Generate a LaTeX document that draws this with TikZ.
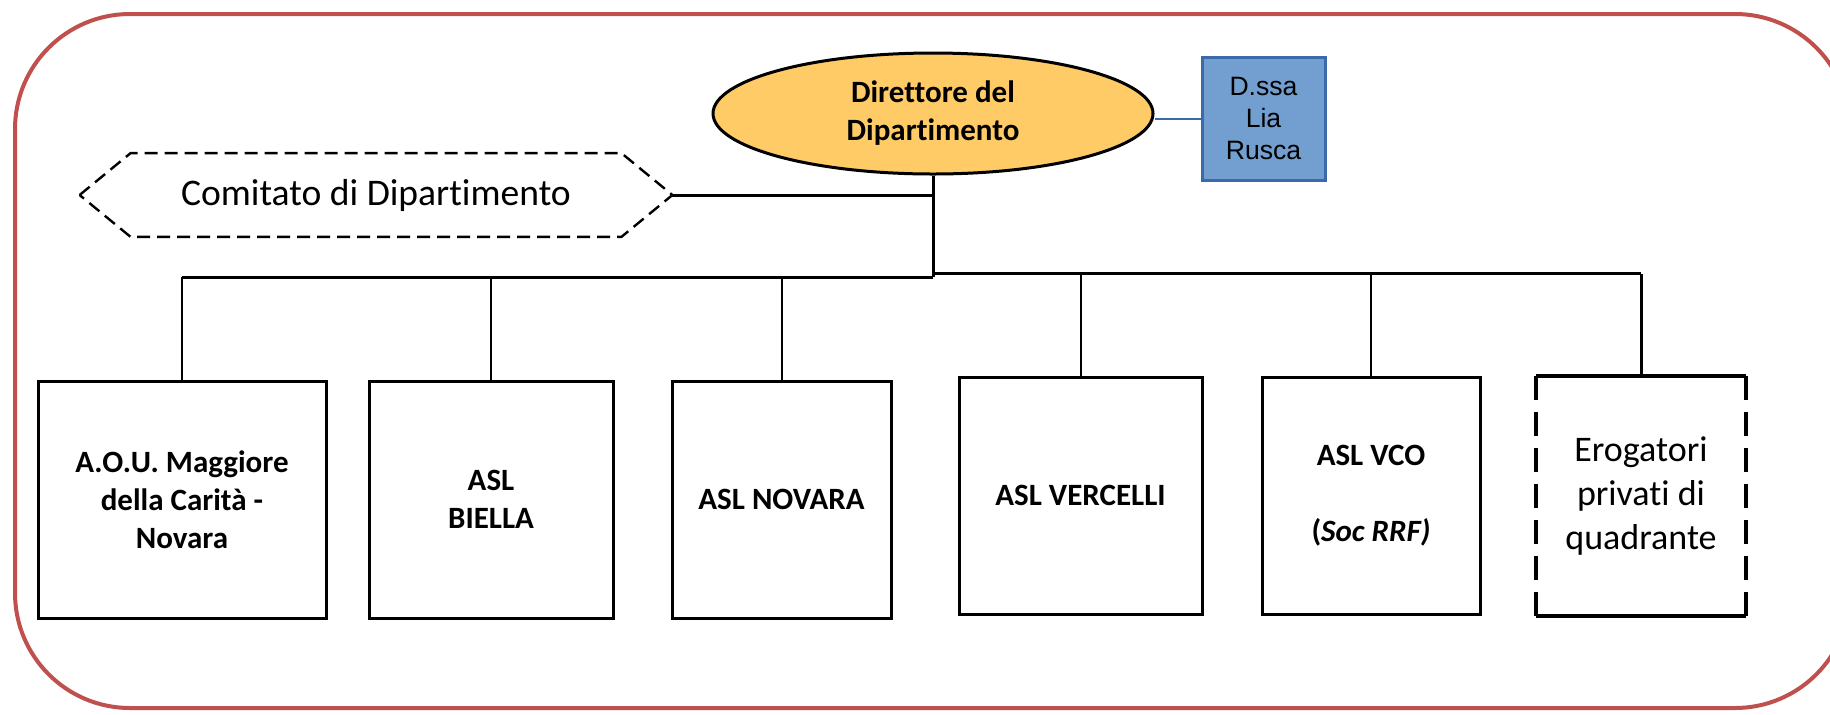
\documentclass[tikz,border=0pt]{standalone}
\usepackage{fontspec}
\setmainfont{Carlito}[Ligatures=NoCommon]
\newfontfamily\arialfont{Liberation Sans}
\usetikzlibrary{shapes.geometric}
\definecolor{framered}{HTML}{C0504D}
\definecolor{dirfill}{HTML}{FECB66}
\definecolor{refblue}{HTML}{729FCF}
\definecolor{refedge}{HTML}{3A6AAA}

\begin{document}
\begin{tikzpicture}[x=0.5pt, y=-0.5pt,
		orgbox/.style={draw, line width=1.5pt, inner sep=0pt, align=center, minimum height=118.5pt, font=\bfseries\fontsize{15.5}{19}\selectfont},
		privbox/.style={inner sep=0pt, align=center, minimum width=105pt, minimum height=120pt, font=\fontsize{18}{22}\selectfont},
		privedge/.style={line width=2pt},
		dirnode/.style={ellipse, draw, line width=1.5pt, fill=dirfill, inner sep=0pt, minimum width=220pt, minimum height=60.5pt, align=center, font=\bfseries\fontsize{15.5}{19}\selectfont},
		refbox/.style={draw=refedge, line width=1.5pt, fill=refblue, inner sep=0pt, minimum width=61.5pt, minimum height=61.5pt, align=center, font=\arialfont\fontsize{13.3}{16}\selectfont},
		hexlabel/.style={inner sep=0pt, minimum width=296pt, minimum height=41.5pt, font=\fontsize{18.8}{22}\selectfont},
		hexedge/.style={line width=1.2pt, dash pattern=on 6.5pt off 3.5pt},
		link/.style={line width=1pt},
		bus/.style={line width=1.5pt},
	]
			%%%%% START %%%%%
			\useasboundingbox (0,0) rectangle (1830,714);
			
			\draw[framered, line width=2pt, rounded corners=57.5pt] (15,14) rectangle (1850,708);
			
			\node[dirnode] (direttore) at (933,113.5) {Direttore del\\Dipartimento};
			\node[refbox] (rusca) at (1263.5,118.5) {D.ssa\\Lia\\Rusca};
			\node[hexlabel] (comitato) at (376,195) {Comitato di Dipartimento};
			
			\node[orgbox, minimum width=144pt] (aou) at (182,499.5) {A.O.U. Maggiore\\della Carità -\\Novara};
			\node[orgbox, minimum width=122pt] (biella) at (491,499.5) {ASL\\BIELLA};
			\node[orgbox, minimum width=109.5pt] (novara) at (781.5,499.5) {ASL NOVARA};
			\node[orgbox, minimum width=121.5pt] (vercelli) at (1080.5,495.5) {ASL VERCELLI};
			\node[orgbox, minimum width=109pt] (vco) at (1371,495.5) {ASL VCO\\[19pt](\textit{Soc RRF)}};
			\node[privbox] (erogatori) at (1641,496) {Erogatori\\privati di\\quadrante};
			
			% dashed sides, solid top and bottom
			\draw[privedge] (erogatori.north west) -- (erogatori.north east) (erogatori.south west) -- (erogatori.south east);
			\draw[privedge, dash pattern=on 12pt off 6pt] (erogatori.north west) -- (erogatori.south west) (erogatori.north east) -- (erogatori.south east);
			
			\draw[hexedge] (comitato.west) -- ([xshift=25.5pt]comitato.north west) -- ([xshift=-25.5pt]comitato.north east) -- (comitato.east) -- ([xshift=-25.5pt]comitato.south east) -- ([xshift=25.5pt]comitato.south west) -- cycle;
			
			\coordinate (busL) at (933,277);
			\coordinate (busR) at (933,273.5);
			
			\draw[refedge, link] (rusca.west) -- (rusca.west -| direttore.east);
			\draw[bus] (direttore.south) -- (busL);
			\draw[bus] (comitato.east) -- (comitato.east -| direttore.south);
			\draw[bus] (aou.north |- busL) -- (busL);
			\draw[bus] (busR) -- (erogatori.north |- busR);
			
			\foreach \n in {aou,biella,novara}
				\draw[link] (\n.north) -- (\n.north |- busL);
			\foreach \n in {vercelli,vco}
				\draw[link] (\n.north) -- (\n.north |- busR);
			\draw[bus] (erogatori.north) -- (erogatori.north |- busR);
			
			%%%%% END %%%%%
		\end{tikzpicture}
\end{document}
